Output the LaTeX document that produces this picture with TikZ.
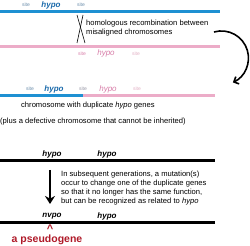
\documentclass[tikz,border=0pt]{standalone}
\usepackage{fontspec}
\setmainfont{Liberation Sans}
\usepackage{tikz}
\usetikzlibrary{arrows.meta, positioning}
\definecolor{cblue}{RGB}{30, 144, 210}
\definecolor{cdarkblue}{RGB}{25, 105, 170}
\definecolor{cpink}{RGB}{236, 172, 200}
\definecolor{cdarkpink}{RGB}{215, 125, 168}
\definecolor{clightpink}{RGB}{225, 175, 195}
\definecolor{cred}{RGB}{175, 25, 40}
\definecolor{csite}{RGB}{105, 140, 170}
\definecolor{cmixsite}{RGB}{150, 150, 165}

\tikzset{
  gene/.style={font=\fontsize{8}{8}\selectfont\bfseries\itshape, inner sep=0pt},
  sitelbl/.style={font=\fontsize{5}{5}\selectfont, inner sep=0pt},
  note/.style={font=\fontsize{7.6}{9}\selectfont, inner sep=0pt, anchor=west, align=left},
  chrom/.style={line width=3pt}
}

\begin{document}
\begin{tikzpicture}[x=1pt, y=-1pt]
  \useasboundingbox (0,0) rectangle (250,246);
  % misaligned pair
  \draw[chrom, cblue] (0,11.5) -- (220,11.5);
  \node[sitelbl, csite] (siteA) at (26,5) {site};
  \node[gene, cdarkblue] (hypoA) at (51,5) {hypo};
  \node[sitelbl, csite] (siteB) at (81,5) {site};
  \draw[line width=0.6pt] (77,15) -- (85,43);
  \draw[line width=0.6pt] (83,15) -- (77,43);
  \node[note] (recomb) at (86,28.5) {homologous recombination between\\misaligned chromosomes};
  \draw[chrom, cpink] (0,47) -- (220,47);
  \node[sitelbl, cdarkpink] (siteC) at (82,53.5) {site};
  \node[gene, cdarkpink, font=\fontsize{8}{8}\selectfont\itshape] (hypoB) at (106,53.5) {hypo};
  \node[sitelbl, clightpink] (siteD) at (136,53.5) {site};
  \coordinate (bendStart) at (214,32);
  \draw[line width=1.6pt, -{Straight Barb[length=4pt, width=8pt]}] (bendStart) arc[start angle=254, end angle=425, radius=27];
  % duplicate
  \draw[chrom, cblue] (0,96) -- (83,96);
  \draw[chrom, cpink] (83,96) -- (215,96);
  \node[sitelbl, csite] (siteE) at (30,89) {site};
  \node[gene, cdarkblue] (hypoC) at (54,89) {hypo};
  \node[sitelbl, cmixsite] (siteF) at (83,89) {site};
  \node[gene, cdarkpink, font=\fontsize{8}{8}\selectfont\itshape] (hypoD) at (108,89) {hypo};
  \node[sitelbl, clightpink] (siteG) at (137,89) {site};
  \node[note] (dupText) at (21,106) {chromosome with duplicate \textit{hypo} genes};
  \node[note] (defText) at (0,122) {(plus a defective chromosome that cannot be inherited)};
  % later generations
  \node[gene] (hypoE) at (52,154) {hypo};
  \node[gene] (hypoF) at (107,154) {hypo};
  \draw[chrom] (0,160.5) -- (215,160.5);
  \coordinate (mutTop) at (50,170);
  \coordinate (mutEnd) at (50,204);
  \draw[line width=2.6pt, -{Stealth[length=8pt, width=10pt]}] (mutTop) -- (mutEnd);
  \node[note] (mutText) at (61,188.5) {In subsequent generations, a mutation(s)\\occur to change one of the duplicate genes\\so that it no longer has the same function,\\but can be recognized as related to \textit{hypo}};
  \node[gene] (nvpo) at (52,216) {nvpo};
  \node[gene] (hypoG) at (107,216) {hypo};
  \draw[chrom] (0,223) -- (215,223);
  \node[cred, font=\fontsize{11}{11}\selectfont\bfseries, inner sep=0pt, anchor=north] (caret) at (50,224.5) {\textasciicircum};
  \node[cred, font=\fontsize{10.5}{10.5}\selectfont\bfseries, inner sep=0pt] (pseudo) at (47,240) {a pseudogene};
\end{tikzpicture}
\end{document}
